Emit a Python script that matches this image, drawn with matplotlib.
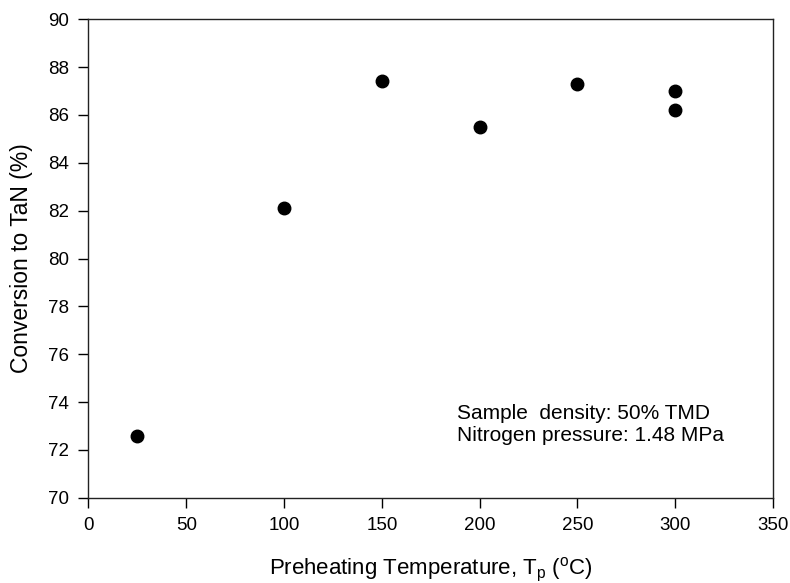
import matplotlib
matplotlib.use("Agg")
import matplotlib.pyplot as plt

plt.rcParams['font.family'] = ['Liberation Sans', 'DejaVu Sans']
plt.rcParams['mathtext.fontset'] = 'custom'
plt.rcParams['mathtext.rm'] = 'Liberation Sans'
plt.rcParams['mathtext.it'] = 'Liberation Sans:italic'

temperature = [25, 100, 150, 200, 250, 300, 300]
conversion = [72.6, 82.1, 87.4, 85.5, 87.3, 87.0, 86.2]
x_ticks = [0, 50, 100, 150, 200, 250, 300, 350]
y_ticks = [70, 72, 74, 76, 78, 80, 82, 84, 86, 88, 90]
notes = ["Sample  density: 50% TMD", "Nitrogen pressure: 1.48 MPa"]

fig = plt.figure(figsize=(7.9, 5.83), dpi=100)
ax = fig.add_axes([0.112, 0.1463, 0.8665, 0.8206])
ax.plot(temperature, conversion, 'o', color='black', markersize=9, linestyle='none')
ax.set_xlim(0, 350)
ax.set_ylim(70, 90)
ax.set_xticks(x_ticks)
ax.set_yticks(y_ticks)
ax.tick_params(direction='out', length=7, width=1, labelsize=13.5, pad=7, colors='black')
for s in ax.spines.values():
    s.set_linewidth(1)
    s.set_color('#222222')
ax.set_xlabel(r'Preheating Temperature, T$_\mathrm{p}$ ($^\mathrm{o}$C)', fontsize=16, labelpad=16)
ax.set_ylabel('Conversion to TaN (%)', fontsize=16.5, labelpad=11)
ax.text(0.538, 0.175, notes[0], transform=ax.transAxes, fontsize=15, va='center', ha='left')
ax.text(0.538, 0.131, notes[1], transform=ax.transAxes, fontsize=15, va='center', ha='left')
fig.savefig('out.png', dpi=100)
